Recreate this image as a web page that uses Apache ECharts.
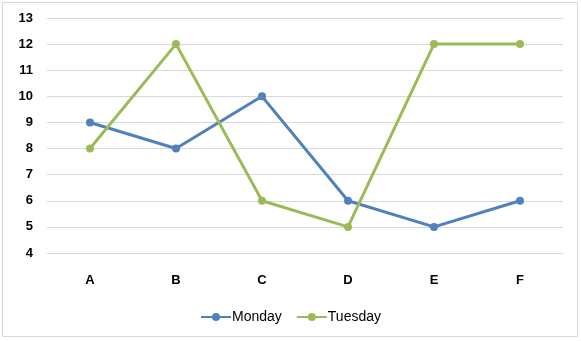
<!DOCTYPE html>
<html><head><meta charset="utf-8">
<script src="https://cdn.jsdelivr.net/npm/echarts@6/dist/echarts.min.js"></script>
<style>html,body{margin:0;padding:0;background:#fff}#c{width:581px;height:341px}</style>
</head><body><div id="c"></div>
<script>
const categories = ['A','B','C','D','E','F'];
const monday = [9, 8, 10, 6, 5, 6];
const tuesday = [8, 12, 6, 5, 12, 12];
const yMin = 4, yMax = 13, yStep = 1;

const chart = echarts.init(document.getElementById('c'), null, {renderer:'canvas'});
const font = 'Liberation Sans, Arial, sans-serif';
chart.setOption({
  animation: false,
  backgroundColor: '#fff',
  graphic: [{type:'rect', shape:{x:2.5,y:2.5,width:575,height:334}, style:{fill:'none', stroke:'#d9d9d9', lineWidth:1}, z:-1}],
  grid: {left:47, right:18, top:18, bottom:88},
  legend: {
    bottom: 12, left: 'center', itemWidth: 30, itemHeight: 10, itemGap: 14,
    textStyle: {fontFamily: font, fontSize: 14, color: '#000', padding:[0,0,0,-4]},
    data: ['Monday','Tuesday']
  },
  xAxis: {
    type: 'category', data: categories, boundaryGap: true,
    axisLine: {show:false}, axisTick: {show:false},
    axisLabel: {fontFamily: font, fontSize: 13, fontWeight: 'bold', color: '#000', margin: 21}
  },
  yAxis: {
    type: 'value', min: yMin, max: yMax, interval: yStep,
    axisLine: {show:false}, axisTick: {show:false},
    axisLabel: {fontFamily: font, fontSize: 13, fontWeight: 'bold', color: '#000', margin: 14},
    splitLine: {lineStyle: {color: '#d9d9d9', width: 1}}
  },
  series: [
    {name:'Monday', type:'line', data: monday, color:'#4F81BD', symbol:'circle', symbolSize:8,
     lineStyle:{width:3}, itemStyle:{color:'#4F81BD'}},
    {name:'Tuesday', type:'line', data: tuesday, color:'#9BBB59', symbol:'circle', symbolSize:8,
     lineStyle:{width:3}, itemStyle:{color:'#9BBB59'}}
  ]
});
</script></body></html>
